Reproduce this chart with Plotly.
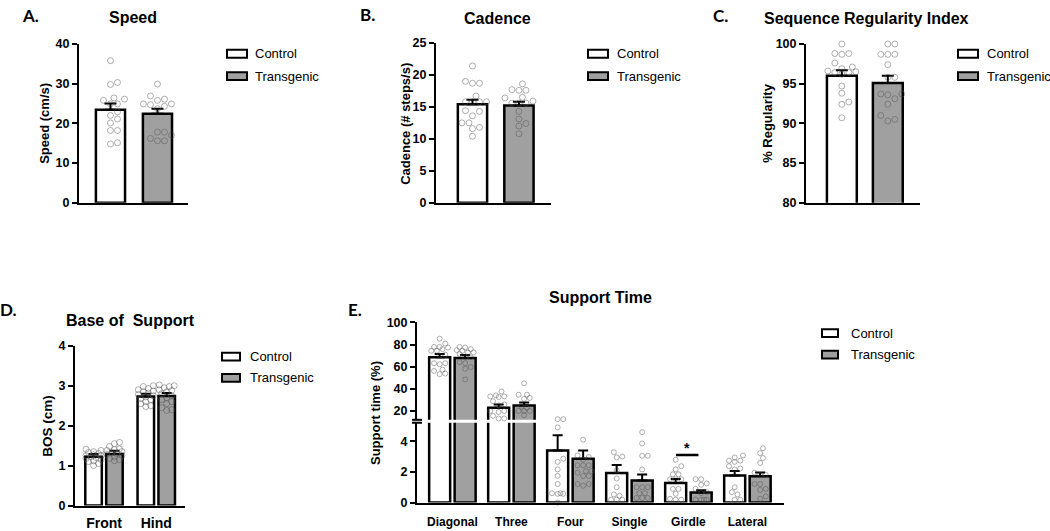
import plotly.graph_objects as go

W, H = 1050, 531

groups = ["Control", "Transgenic"]

# ---------------- A. Speed ----------------
speed_mean = [23.4, 22.4]
speed_sem = [1.6, 1.3]
speed_control = [35.8, 30.3, 29.8, 25.8, 26.4, 26.1, 24.9, 24.9, 22.0, 22.9, 21.1, 20.1, 18.2, 18.2, 14.8, 15.1]
speed_transgenic = [29.9, 26.9, 25.8, 26.1, 24.7, 24.9, 24.3, 24.9, 23.7, 17.8, 17.8, 16.2, 15.6, 15.6, 17.0]
speed_ticks = [0, 10, 20, 30, 40]

# ---------------- B. Cadence ----------------
cadence_mean = [15.4, 15.2]
cadence_sem = [0.7, 0.6]
cadence_control = [21.4, 19.0, 18.7, 18.7, 16.7, 15.8, 15.8, 15.8, 15.8, 14.4, 14.3, 13.6, 12.5, 12.5, 11.6, 11.8, 10.4]
cadence_transgenic = [18.6, 17.7, 17.6, 17.6, 16.5, 16.4, 15.6, 15.6, 15.6, 15.9, 14.3, 13.1, 12.4, 12.0, 10.8]
cadence_ticks = [0, 5, 10, 15, 20, 25]

# ---------------- C. Sequence Regularity Index ----------------
regularity_mean = [96.0, 95.1]
regularity_sem = [0.7, 0.9]
regularity_control = [100.0, 98.7, 98.8, 98.8, 97.6, 97.1, 96.9, 96.2, 96.4, 96.4, 96.5, 96.6, 94.7, 93.8, 92.4, 92.7, 90.7]
regularity_transgenic = [100.0, 100.0, 98.7, 98.7, 98.7, 97.4, 95.8, 95.8, 93.7, 93.7, 93.6, 93.1, 92.4, 91.0, 90.3, 90.5]
regularity_ticks = [80, 85, 90, 95, 100]

# ---------------- D. Base of Support ----------------
bos_categories = ["Front", "Hind"]
bos_mean_control = [1.22, 2.73]
bos_sem_control = [0.07, 0.07]
bos_mean_transgenic = [1.29, 2.74]
bos_sem_transgenic = [0.08, 0.08]
bos_front_control = [1.41, 1.38, 1.35, 1.33, 1.30, 1.27, 1.25, 1.25, 1.22, 1.20, 1.18, 1.15, 1.12, 1.10, 1.05, 1.00]
bos_front_transgenic = [1.58, 1.55, 1.48, 1.42, 1.40, 1.38, 1.35, 1.32, 1.30, 1.28, 1.25, 1.22, 1.18, 1.15, 1.12]
bos_hind_control = [3.00, 2.98, 2.93, 2.90, 2.87, 2.85, 2.82, 2.78, 2.75, 2.72, 2.68, 2.65, 2.60, 2.55, 2.50, 2.48]
bos_hind_transgenic = [3.02, 3.00, 2.98, 2.95, 2.90, 2.88, 2.85, 2.80, 2.75, 2.70, 2.65, 2.60, 2.55, 2.45, 2.40, 2.38]
bos_ticks = [0, 1, 2, 3, 4]

# ---------------- E. Support Time ----------------
support_categories = ["Diagonal", "Three", "Four", "Single", "Girdle", "Lateral"]
support_mean_control = [68.5, 22.9, 3.39, 1.92, 1.28, 1.77]
support_sem_control = [3.0, 3.0, 0.99, 0.52, 0.26, 0.29]
support_mean_transgenic = [67.9, 25.0, 2.86, 1.43, 0.65, 1.71]
support_sem_transgenic = [2.7, 2.6, 0.53, 0.40, 0.15, 0.25]
support_control_points = [
    [85.3, 80.9, 77.9, 77.9, 77.3, 74.4, 75.9, 74.4, 70.9, 70.0, 63.2, 62.2, 63.2, 57.3, 56.2, 53.2, 53.8],
    [34.1, 37.6, 33.2, 33.2, 32.6, 28.8, 25.0, 25.9, 19.1, 20.0, 20.0, 13.2, 15.6, 13.2],
    [12.6, 12.6, 4.9, 2.86, 2.65, 2.16, 1.74, 1.21, 0.61, 0.57, 0.57, 0.61, 0.0],
    [3.28, 2.94, 3.0, 2.1, 1.57, 1.0, 0.44, 0.53, 0.19, 0.19, 0.19],
    [2.79, 2.37, 2.16, 1.84, 1.84, 1.52, 1.52, 1.52, 0.89, 0.89, 0.57, 0.25, 0.19, 0.19],
    [3.07, 2.94, 2.73, 2.65, 2.73, 2.37, 2.22, 2.16, 1.0, 0.68, 0.53, 0.19, 0.19],
]
support_transgenic_points = [
    [77.9, 77.3, 75.0, 75.9, 74.4, 71.4, 72.9, 72.9, 68.5, 68.5, 64.1, 63.2, 58.2, 59.7, 48.5],
    [45.0, 34.7, 34.7, 31.8, 30.9, 22.9, 23.8, 20.0, 20.0, 20.0, 16.2],
    [4.1, 3.07, 2.96, 2.79, 2.43, 2.43, 2.43, 1.95, 2.05, 2.05, 1.73, 1.73, 1.21, 1.21, 1.1],
    [4.59, 3.85, 3.05, 3.05, 2.16, 1.0, 1.0, 1.0, 0.62, 0.62, 0.3, 0.3, 0.3],
    [1.52, 1.52, 1.25, 1.16, 0.89, 0.68, 0.62, 0.19, 0.19, 0.19, 0.19],
    [3.54, 3.22, 2.9, 2.58, 1.95, 1.8, 1.8, 1.21, 1.21, 0.89, 0.83, 0.4, 0.25],
]
support_upper_ticks = [20, 40, 60, 80, 100]
support_lower_ticks = [0, 2, 4]
sig_category = 4  # Girdle

# ---------------- style ----------------
FONT = "Liberation Sans, Arial, sans-serif"
FILL = {"Control": "white", "Transgenic": "#a0a0a0"}
PT_COLOR = "rgba(80,80,80,0.45)"
LINE_W = 2.5

fig = go.Figure()
layout = {}
shapes = []
annotations = []


def px_x(p):
    return p / W


def px_y(p):
    return 1 - p / H


def swarm(vals, ppu_y, d, max_off):
    order = sorted(range(len(vals)), key=lambda i: vals[i])
    placed = []
    offs = [0.0] * len(vals)
    cands = [0.0]
    j = 1
    while j * d / 2 <= max_off + 1e-9:
        cands += [j * d / 2, -j * d / 2]
        j += 1
    for i in order:
        y = vals[i] * ppu_y
        best, best_score = cands[0], -1.0
        for c in cands:
            score = min([((c - px) ** 2 + (y - py) ** 2) ** 0.5 for px, py in placed] or [1e9])
            if score >= d * 0.97:
                best = c
                break
            if score > best_score:
                best, best_score = c, score
        placed.append((best, y))
        offs[i] = best
    return offs


def setup_axes(sfx, xpx, ypx, xr, yr, yticks, cats=None, cat_size=12, cat_pad=7, show_x=True):
    xa = dict(domain=[px_x(xpx[0]), px_x(xpx[1])], range=xr, anchor="y" + sfx,
              showline=show_x, visible=show_x, linecolor="black", linewidth=2,
              showgrid=False, zeroline=False, fixedrange=True)
    if cats:
        xa.update(tickvals=list(range(len(cats))), ticktext=cats, ticks="outside",
                  ticklen=cat_pad, tickcolor="rgba(0,0,0,0)",
                  tickfont=dict(family=FONT, size=cat_size, color="black", weight="bold"))
    else:
        xa.update(showticklabels=False, ticks="")
    ya = dict(domain=[px_y(ypx[1]), px_y(ypx[0])], range=yr, anchor="x" + sfx,
              showline=True, linecolor="black", linewidth=2, showgrid=False, zeroline=False,
              ticks="outside", ticklen=5, tickwidth=2, tickcolor="black", tickvals=yticks,
              tickfont=dict(family=FONT, size=12.5, color="black", weight="bold"),
              fixedrange=True)
    layout["xaxis" + sfx] = xa
    layout["yaxis" + sfx] = ya
    ppu_x = (xpx[1] - xpx[0]) / (xr[1] - xr[0])
    ppu_y = (ypx[1] - ypx[0]) / (yr[1] - yr[0])
    return ppu_x, ppu_y


def add_bars(sfx, xs, means, sems, group, width, cap=6):
    fig.add_trace(go.Bar(
        x=xs, y=means, width=width, xaxis="x" + sfx, yaxis="y" + sfx, showlegend=False,
        marker=dict(color=FILL[group], line=dict(color="black", width=LINE_W)),
        error_y=dict(type="data", symmetric=False, array=sems, arrayminus=[0] * len(sems),
                     color="black", thickness=2, width=cap),
        hoverinfo="skip"))


def add_points(sfx, center, vals, ppu_x, ppu_y, d=6.5, size=6, base=0.0, max_off=14):
    if not vals:
        return
    offs = swarm([v - base for v in vals], ppu_y, d, max_off)
    fig.add_trace(go.Scatter(
        x=[center + o / ppu_x for o in offs], y=vals, mode="markers",
        xaxis="x" + sfx, yaxis="y" + sfx, showlegend=False, cliponaxis=False,
        marker=dict(symbol="circle-open", size=size, color=PT_COLOR, line=dict(width=1)),
        hoverinfo="skip"))


def add_text(text, xp, yp, size, bold=True, family=FONT, xanchor="center", angle=0):
    annotations.append(dict(
        text=text, x=px_x(xp), y=px_y(yp), xref="paper", yref="paper",
        xanchor=xanchor, yanchor="middle", showarrow=False, textangle=angle,
        font=dict(family=family, size=size, color="black", weight="bold" if bold else "normal")))


def add_legend(box_x, rows, box_w, box_h, text_x, size=13):
    for g, ry in zip(groups, rows):
        shapes.append(dict(type="rect", xref="paper", yref="paper",
                           x0=px_x(box_x), x1=px_x(box_x + box_w),
                           y0=px_y(ry + box_h / 2), y1=px_y(ry - box_h / 2),
                           fillcolor=FILL[g], line=dict(color="black", width=2)))
        add_text(g, text_x, ry, size, bold=False, xanchor="left")


# ---------------- simple two-bar panels ----------------
simple_panels = [
    ("", (79, 188), (38, 201), [-0.67, 1.65], [0, 40], speed_ticks, speed_mean, speed_sem,
     [speed_control, speed_transgenic], 0.62, 0.0),
    ("2", (436, 551), (37, 201), [-0.785, 1.69], [0, 25], cadence_ticks, cadence_mean, cadence_sem,
     [cadence_control, cadence_transgenic], 0.63, 0.0),
    ("3", (806, 920), (38, 201), [-0.78, 1.70], [80, 100], regularity_ticks, regularity_mean, regularity_sem,
     [regularity_control, regularity_transgenic], 0.65, 80.0),
]
for sfx, xpx, ypx, xr, yr, yt, means, sems, pts, bw, base in simple_panels:
    ppx, ppy = setup_axes(sfx, xpx, ypx, xr, yr, yt)
    for gi, g in enumerate(groups):
        add_bars(sfx, [gi], [means[gi]], [sems[gi]], g, bw)
    for gi, g in enumerate(groups):
        add_points(sfx, gi, pts[gi], ppx, ppy, d=7, size=6, base=base, max_off=15)

# ---------------- D ----------------
ppx, ppy = setup_axes("4", (75, 185), (348, 512), [-0.555, 1.55], [0, 4], bos_ticks,
                      cats=bos_categories, cat_size=14, cat_pad=4)
d_off = 0.2
add_bars("4", [i - d_off for i in range(2)], bos_mean_control, bos_sem_control, "Control", 0.316, cap=5)
add_bars("4", [i + d_off for i in range(2)], bos_mean_transgenic, bos_sem_transgenic, "Transgenic", 0.316, cap=5)
for ci, (pc, pt) in enumerate([(bos_front_control, bos_front_transgenic), (bos_hind_control, bos_hind_transgenic)]):
    add_points("4", ci - d_off, pc, ppx, ppy, d=5, size=6, max_off=8)
    add_points("4", ci + d_off, pt, ppx, ppy, d=5, size=6, max_off=8)

# ---------------- E (broken axis) ----------------
lower_range = [0, 5.2]
upper_range = [12, 100]
e_xr = [-0.6, 5.62]
ppx_l, ppy_l = setup_axes("5", (417, 784), (427, 509), e_xr, lower_range, support_lower_ticks,
                          cats=support_categories, cat_size=12, cat_pad=7)
ppx_u, ppy_u = setup_axes("6", (417, 784), (324, 424), e_xr, upper_range, support_upper_ticks, show_x=False)
layout["xaxis6"]["matches"] = "x5"
e_off = 0.216
n_e = len(support_categories)
for sfx in ["5", "6"]:
    add_bars(sfx, [i - e_off for i in range(n_e)], support_mean_control, support_sem_control, "Control", 0.356, cap=5)
    add_bars(sfx, [i + e_off for i in range(n_e)], support_mean_transgenic, support_sem_transgenic, "Transgenic", 0.356, cap=5)
for ci in range(n_e):
    for g, pts, sgn in [("Control", support_control_points[ci], -1), ("Transgenic", support_transgenic_points[ci], 1)]:
        lo = [v for v in pts if v <= lower_range[1]]
        hi = [v for v in pts if v > lower_range[1]]
        add_points("5", ci + sgn * e_off, lo, ppx_l, ppy_l, d=5.6, size=5, max_off=10)
        add_points("6", ci + sgn * e_off, hi, ppx_u, ppy_u, d=5.6, size=5, base=upper_range[0], max_off=10)

# axis break caps
for yb in [424, 427]:
    shapes.append(dict(type="line", xref="paper", yref="paper", x0=px_x(412), x1=px_x(422),
                       y0=px_y(yb), y1=px_y(yb), line=dict(color="black", width=2)))

# significance marker (Girdle)
shapes.append(dict(type="line", xref="x5", yref="y5", x0=sig_category - 0.21, x1=sig_category + 0.17,
                   y0=3.1, y1=3.1, line=dict(color="black", width=2.5)))
annotations.append(dict(text="*", x=sig_category - 0.02, y=3.3, xref="x5", yref="y5", showarrow=False,
                        yanchor="bottom", font=dict(family=FONT, size=14, color="black", weight="bold"),
                        yshift=-6))

# ---------------- titles, labels ----------------
add_text("Speed", 133, 11, 16)
add_text("Cadence", 497, 12, 16)
add_text("Sequence Regularity Index", 866, 12, 16)
add_text("Base of  Support", 130, 322, 16)
add_text("Support Time", 600, 298, 16)

LETTER_FONT = "Lato, Open Sans, sans-serif"
add_text("A.", 30, 9, 17, family=LETTER_FONT)
add_text("B.", 367, 8, 17, family=LETTER_FONT)
add_text("C.", 720, 9, 17, family=LETTER_FONT)
add_text("D.", 8, 311, 17, family=LETTER_FONT)
add_text("E.", 355, 311, 17, family=LETTER_FONT)

add_text("Speed (cm/s)", 45, 120, 13, angle=-90)
add_text("Cadence (# steps/s)", 406, 120, 13, angle=-90)
add_text("% Regularity", 768, 119, 13, angle=-90)
add_text("BOS (cm)", 48, 430, 13.5, angle=-90)
add_text("Support time (%)", 375, 417, 13, angle=-90)

add_legend(227, [48, 71], 20, 8, 253)
add_legend(588, [48, 71], 20, 8, 615)
add_legend(958, [48, 71], 20, 8, 985)
add_legend(222, [359, 381], 18, 8, 248)
add_legend(822, [335, 357], 16, 8, 849)

layout.update(dict(
    width=W, height=H, margin=dict(l=0, r=0, t=0, b=0),
    paper_bgcolor="white", plot_bgcolor="white",
    font=dict(family=FONT, color="black"),
    showlegend=False, barmode="overlay",
    shapes=shapes, annotations=annotations,
))
fig.update_layout(**layout)
fig.write_html("out.html", config={"displayModeBar": False, "staticPlot": True},
               post_script="document.body.style.margin='0px';document.body.style.overflow='hidden';")
